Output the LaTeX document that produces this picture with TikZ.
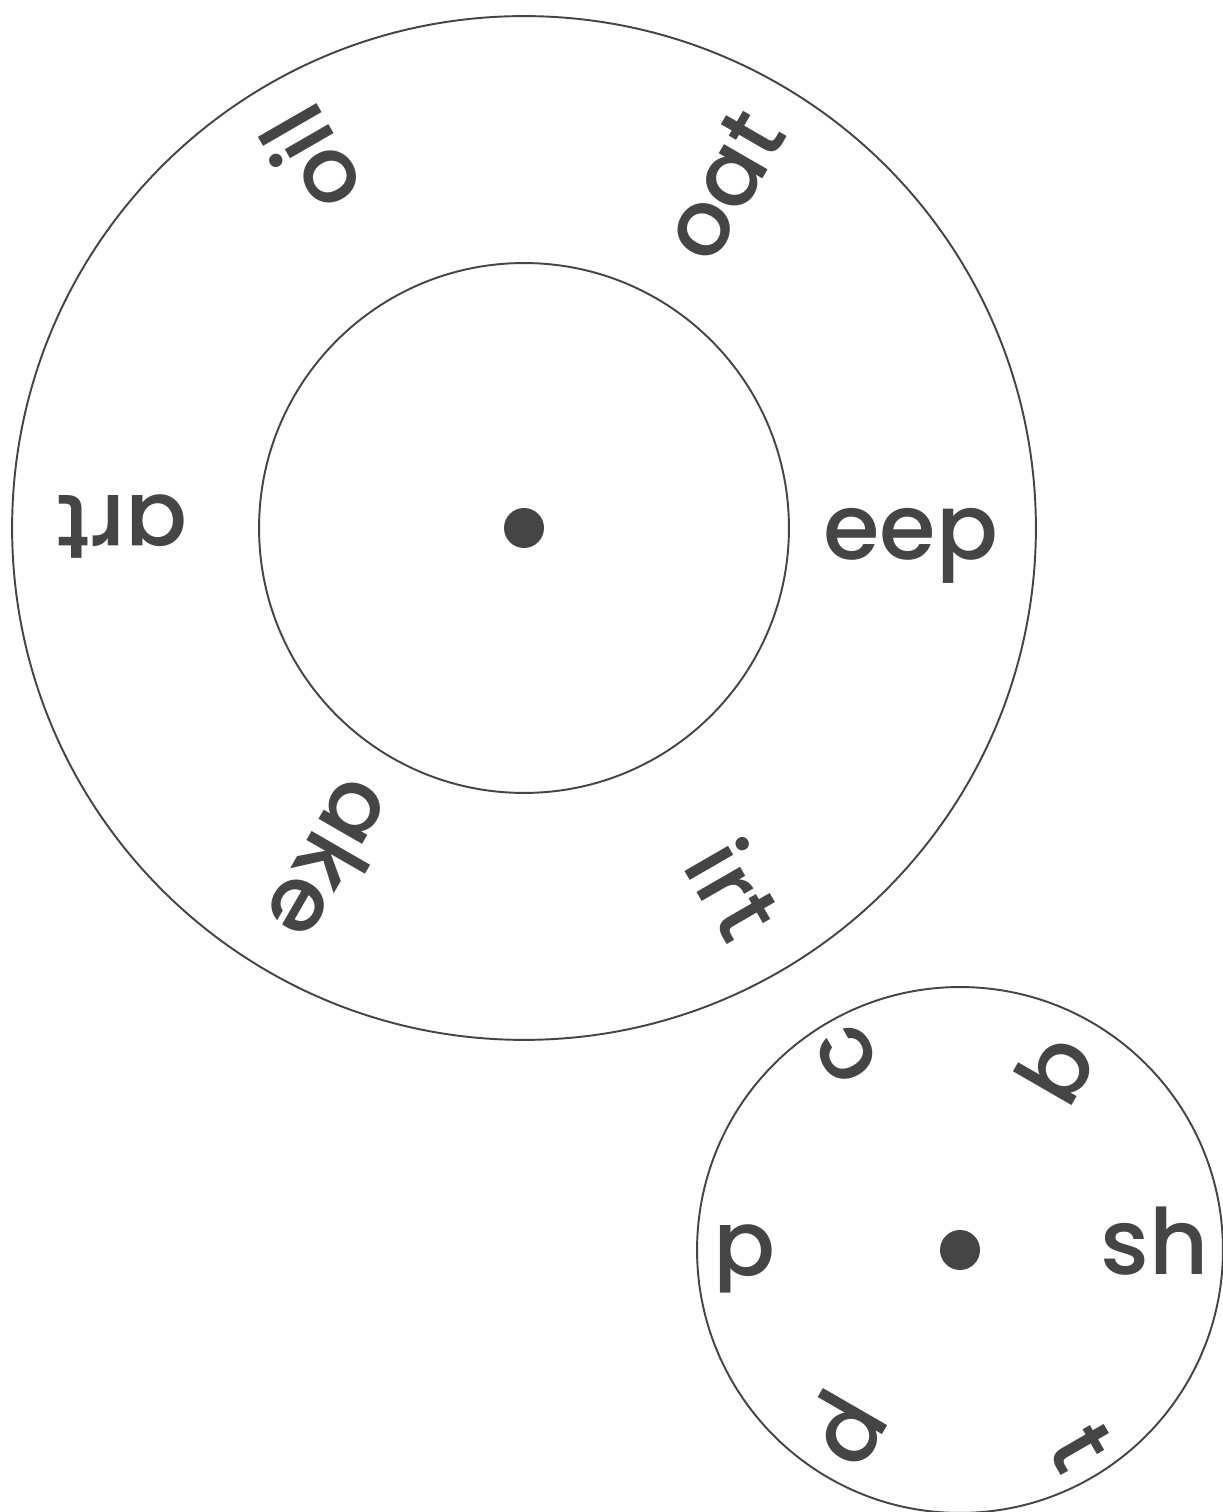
\documentclass[tikz,border=0pt]{standalone}
\usepackage{fontspec}
\setmainfont{Poppins}[UprightFont={* Medium}]
\usetikzlibrary{calc}
\definecolor{ink}{HTML}{454545}
\tikzset{
    ring/.style={circle, draw=ink, line width=1.1pt, inner sep=0pt},
    hub/.style={circle, fill=ink, inner sep=0pt, minimum size=0.8cm},
    word/.style={font=\fontsize{52}{60}\selectfont, text=ink, inner sep=0pt,
        text height=1cm, text depth=0pt, anchor=center}
}

\begin{document}
\begin{tikzpicture}[x=0.02cm, y=0.02cm]
    \useasboundingbox (0,0) rectangle (1223,1512);
    \clip (0,0) rectangle (1223,1512);
    \fill[white] (0,0) rectangle (1223,1512);
    % big wheel: two rings round one hub
    \node[hub] (bighub) at (524,984) {};
    \node[ring, minimum size=20.48cm] (outer) at (bighub) {};
    \node[ring, minimum size=10.6cm] (inner) at (bighub) {};
    \foreach \w/\r [count=\i from 0] in {eep/387, oat/396, oil/425, art/402, ake/384, irt/418}
        \node[word, rotate=60*\i] (rime\i) at ($(bighub)+(60*\i-1:\r)$) {\w};
    % small wheel
    \node[hub] (smallhub) at (960,262) {};
    \node[ring, minimum size=10.52cm] (onsetring) at (smallhub) {};
    \foreach \w/\r [count=\i from 0] in {sh/195, b/205, c/226, d/215, p/212, t/232}
        \node[word, rotate=60*\i] (onset\i) at ($(smallhub)+(60*\i:\r)$) {\w};
\end{tikzpicture}
\end{document}
